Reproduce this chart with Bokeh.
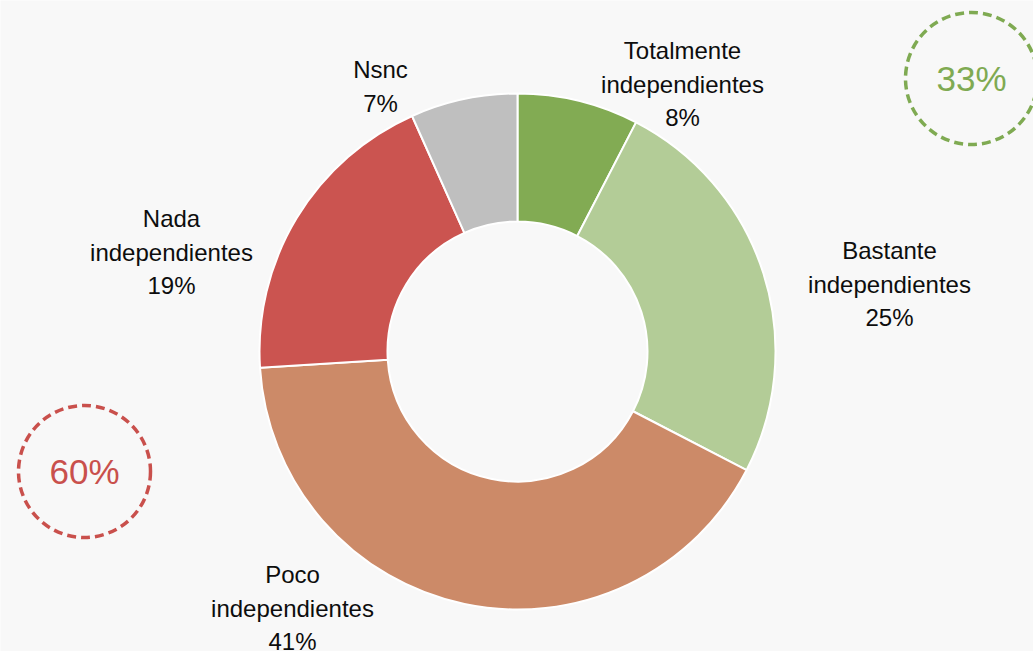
import math
from bokeh.plotting import figure
from bokeh.models import Range1d, ColumnDataSource
from bokeh.core.properties import value
from bokeh.embed import file_html
from bokeh.resources import INLINE

# ---- data ----
categories = ["Totalmente independientes", "Bastante independientes",
              "Poco independientes", "Nada independientes", "Nsnc"]
values = [7.6, 25.0, 41.4, 19.3, 6.7]
colors = ["#82AB53", "#B3CC97", "#CC8A68", "#CB5450", "#BFBFBF"]
summary_groups = [[0, 1], [2, 3]]          # positive / negative groups
summary_colors = ["#7FAA52", "#C9504C"]

# ---- layout (pixel positions of the page) ----
W, H = 1033, 651
CX, CY = 517, 351
R_OUT, R_IN = 258, 130
label_x = [682, 889, 292, 171, 380]
label_top = [50, 250, 574, 218, 69]
line_gap = 33.5
summary_xy = [(971, 78), (84, 471)]
summary_r = 66

def Y(ypix):
    return H - ypix

p = figure(width=W, height=H, output_backend="svg", toolbar_location=None,
           x_range=Range1d(0, W), y_range=Range1d(0, H),
           min_border=0, background_fill_color="#F8F8F8",
           border_fill_color="#F8F8F8", outline_line_color=None)
p.axis.visible = False
p.grid.visible = False

total = sum(values)
starts, ends = [], []
cum = 0.0
for v in values:
    starts.append(math.pi / 2 - 2 * math.pi * cum / total)
    cum += v
    ends.append(math.pi / 2 - 2 * math.pi * cum / total)

src = ColumnDataSource(dict(x=[CX] * len(values), y=[Y(CY)] * len(values),
                            start=starts, end=ends, color=colors))
p.annular_wedge(x="x", y="y", inner_radius=R_IN, outer_radius=R_OUT,
                start_angle="start", end_angle="end", direction="clock",
                fill_color="color", line_color="white", line_width=2,
                source=src)

pct = [round(v / total * 100) for v in values]
for i, cat in enumerate(categories):
    lines = cat.split(" ") + [f"{pct[i]}%"]
    for j, t in enumerate(lines):
        p.text(x=[label_x[i]], y=[Y(label_top[i] + j * line_gap)], text=[t],
               text_font=value("Liberation Sans"), text_font_size="24px",
               text_color="#0D0D0D", text_align="center",
               text_baseline="middle")

for (sx, sy), grp, col in zip(summary_xy, summary_groups, summary_colors):
    s = sum(pct[k] for k in grp)
    p.circle(x=[sx], y=[Y(sy)], radius=summary_r, fill_color=None,
             line_color=col, line_width=3.5, line_dash="9 5")
    p.text(x=[sx], y=[Y(sy)], text=[f"{s}%"],
           text_font=value("Liberation Sans"), text_font_size="35px",
           text_color=col, text_align="center", text_baseline="middle")

open("out.html", "w").write(file_html(p, INLINE))
